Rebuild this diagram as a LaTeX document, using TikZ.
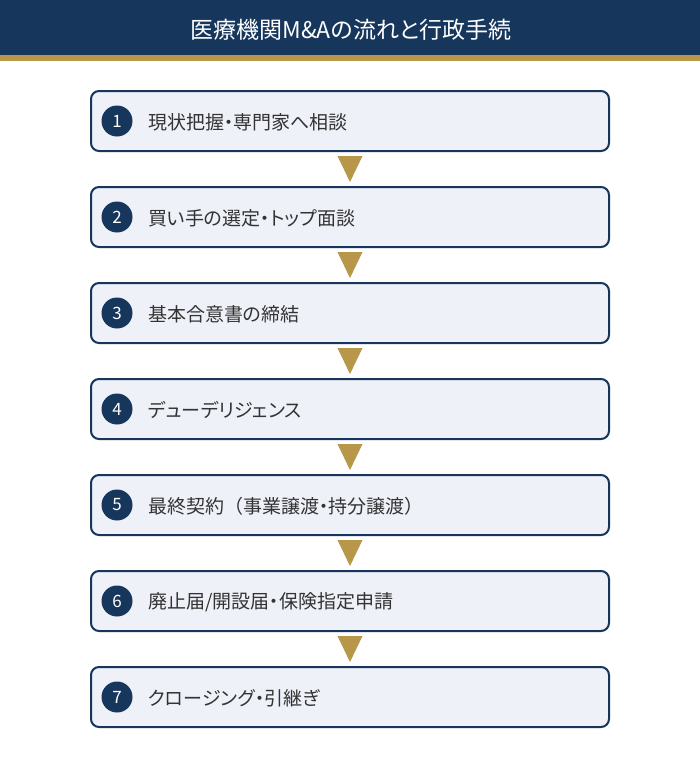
\documentclass[tikz,border=0pt]{standalone}
\usepackage{fontspec}
\setmainfont[RawFeature=+palt]{Noto Sans CJK JP}
\newfontfamily\fwfont{Noto Sans CJK JP}
\usetikzlibrary{positioning}
\definecolor{navy}{HTML}{17365C}
\definecolor{gold}{HTML}{B8964A}
\definecolor{boxfill}{HTML}{EEF1F8}
\definecolor{txt}{HTML}{333333}
\tikzset{
  stepbox/.style={draw=navy, line width=2pt, fill=boxfill, rounded corners=8pt, minimum width=518pt, minimum height=60pt, inner sep=0pt},
  numcirc/.style={circle, fill=navy, minimum size=31pt, inner sep=0pt, text=white, font=\fontsize{17pt}{17pt}\selectfont},
  steptext/.style={anchor=west, text=txt, inner sep=0pt, font=\fontsize{19pt}{19pt}\selectfont},
  tri/.style={fill=gold}
}
\begin{document}
\begin{tikzpicture}[x=1pt,y=-1pt]
\useasboundingbox (0,0) rectangle (700,758);
\fill[white] (0,0) rectangle (700,758);
\fill[navy] (0,0) rectangle (700,55);
\fill[gold] (0,55) rectangle (700,61);
\node[text=white, font=\fontsize{23pt}{23pt}\selectfont, inner sep=0pt] (title) at (351,30) {医療機関M\&Aの流れと行政手続};
\foreach \i/\t in {1/{現状把握・専門家へ相談}, 2/{買い手の選定・トップ面談}, 3/{基本合意書の締結}, 4/{デューデリジェンス}, 5/{最終契約{\fwfont （}事業譲渡・持分譲渡{\fwfont ）}}, 6/{廃止届/開設届・保険指定申請}, 7/{クロージング・引継ぎ}}{
  \pgfmathsetmacro{\yc}{121+(\i-1)*96}
  \node[stepbox] (box\i) at (350,\yc) {};
  \node[numcirc] (num\i) at (117,\yc) {\i};
  \node[steptext] (lab\i) at (148,\yc+1) {\t};
}
\foreach \i in {1,...,6}{
  \pgfmathsetmacro{\yt}{156+(\i-1)*96}
  \fill[tri] (337.5,\yt) -- (362.5,\yt) -- (350,\yt+26) -- cycle;
}
\end{tikzpicture}
\end{document}
